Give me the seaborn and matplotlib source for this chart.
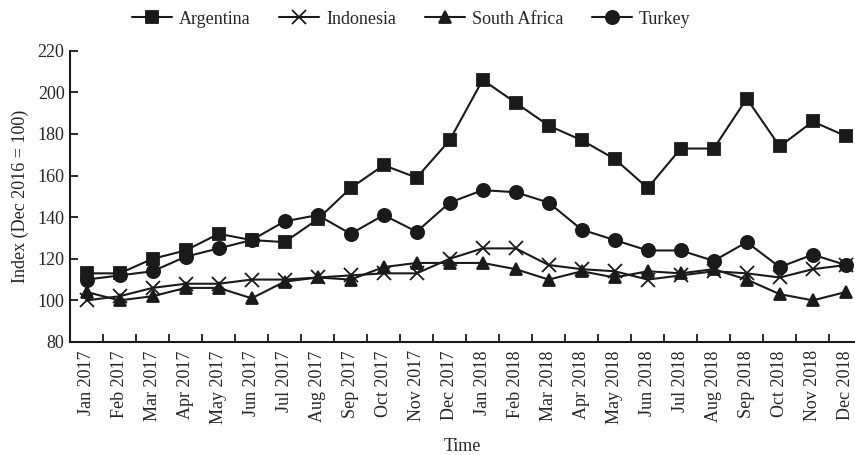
import matplotlib
matplotlib.use("Agg")
import matplotlib.pyplot as plt
import seaborn as sns
import pandas as pd
import numpy as np

months = ["Jan 2017", "Feb 2017", "Mar 2017", "Apr 2017", "May 2017", "Jun 2017",
          "Jul 2017", "Aug 2017", "Sep 2017", "Oct 2017", "Nov 2017", "Dec 2017",
          "Jan 2018", "Feb 2018", "Mar 2018", "Apr 2018", "May 2018", "Jun 2018",
          "Jul 2018", "Aug 2018", "Sep 2018", "Oct 2018", "Nov 2018", "Dec 2018"]

argentina = [113, 113, 120, 124, 132, 129, 128, 139, 154, 165, 159, 177,
             206, 195, 184, 177, 168, 154, 173, 173, 197, 174, 186, 179]
indonesia = [100, 102, 106, 108, 108, 110, 110, 111, 112, 113, 113, 120,
             125, 125, 117, 115, 114, 110, 112, 114, 113, 111, 115, 117]
south_africa = [104, 100, 102, 106, 106, 101, 109, 111, 110, 116, 118, 118,
                118, 115, 110, 114, 111, 114, 113, 115, 110, 103, 100, 104]
turkey = [110, 112, 114, 121, 125, 129, 138, 141, 132, 141, 133, 147,
          153, 152, 147, 134, 129, 124, 124, 119, 128, 116, 122, 117]

countries = ["Argentina", "Indonesia", "South Africa", "Turkey"]
series = [argentina, indonesia, south_africa, turkey]

rows = []
for name, vals in zip(countries, series):
    for i, v in enumerate(vals):
        rows.append({"pos": i, "Country": name, "Index": v})
df = pd.DataFrame(rows)

sns.set_style("ticks")
plt.rcParams['font.family'] = ['Liberation Serif', 'DejaVu Serif']

fig = plt.figure(figsize=(8.55, 4.55), dpi=100)
ax = fig.add_axes([0.082, 0.2484, 0.918, 0.64])

ink = "#1a1a1a"
markers = {"Argentina": "s", "Indonesia": "x", "South Africa": "^", "Turkey": "o"}
msize = {"Argentina": 9, "Indonesia": 10, "South Africa": 9, "Turkey": 9.5}
for c in countries:
    sns.lineplot(data=df[df["Country"] == c], x="pos", y="Index", ax=ax,
                 color=ink, marker=markers[c], markersize=msize[c],
                 markeredgewidth=1.3, markeredgecolor=ink, linewidth=1.5,
                 label=c, legend=False)

ax.set_xlim(-0.5, 23.28)
ax.set_ylim(80, 220)
ax.set_yticks(np.arange(80, 221, 20))
ax.set_xticks(range(len(months)))
ax.set_xticklabels(months, rotation=90)
ax.set_xticks(np.arange(0.5, 23, 1), minor=True)
ax.tick_params(axis="x", which="major", length=0, labelsize=13, pad=6)
ax.tick_params(axis="x", which="minor", direction="in", length=6, width=1.3, color=ink)
ax.tick_params(axis="y", direction="in", length=6, width=1.3, labelsize=13, pad=4, color=ink)
for s in ["top", "right"]:
    ax.spines[s].set_visible(False)
for s in ["left", "bottom"]:
    ax.spines[s].set_linewidth(1.5)
    ax.spines[s].set_color(ink)

ax.set_xlabel("Time", fontsize=13, labelpad=10)
ax.set_ylabel("Index (Dec 2016 = 100)", fontsize=13, labelpad=6)

handles = [plt.Line2D([], [], color=ink, marker=markers[c], linewidth=1.5,
                      markersize=msize[c], markeredgewidth=1.3) for c in countries]
fig.legend(handles, countries, loc="upper center", bbox_to_anchor=(0.481, 1.012),
           ncol=4, frameon=False, fontsize=13, handlelength=2.2,
           columnspacing=1.6, handletextpad=0.4)

fig.savefig("out.png", dpi=100)
